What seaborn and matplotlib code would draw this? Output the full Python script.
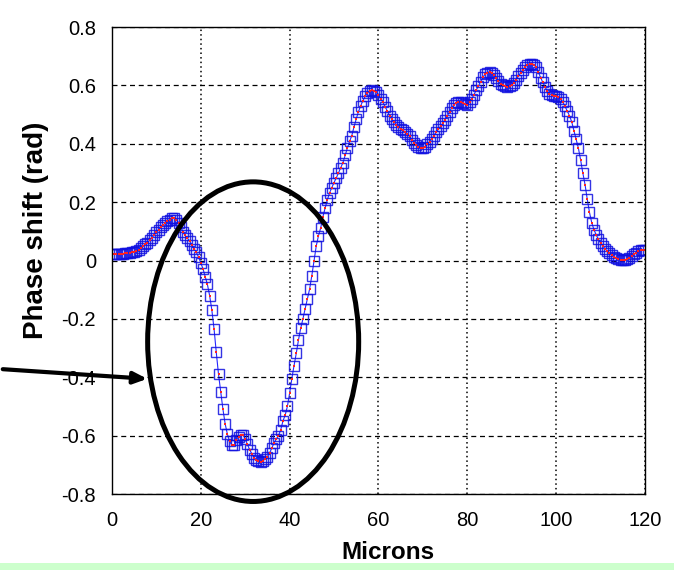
import numpy as np
import pandas as pd
import matplotlib
matplotlib.use("Agg")
import matplotlib.pyplot as plt
from matplotlib.patches import Ellipse, Rectangle
import seaborn as sns

microns = np.arange(0, 120.5, 0.5)
phase = [
    0.023, 0.023, 0.023, 0.023, 0.024, 0.024, 0.025, 0.026, 0.027, 0.028,
    0.030, 0.033, 0.037, 0.043, 0.049, 0.055, 0.061, 0.069, 0.078, 0.087,
    0.096, 0.106, 0.114, 0.121, 0.128, 0.135, 0.140, 0.144, 0.145, 0.140,
    0.130, 0.114, 0.099, 0.086, 0.077, 0.066, 0.053, 0.040, 0.028, 0.012,
    -0.008, -0.028, -0.055, -0.082, -0.120, -0.170, -0.235, -0.315, -0.390, -0.450,
    -0.510, -0.560, -0.595, -0.620, -0.632, -0.632, -0.615, -0.603, -0.598, -0.597,
    -0.610, -0.630, -0.648, -0.662, -0.675, -0.682, -0.687, -0.689, -0.686, -0.680,
    -0.672, -0.660, -0.642, -0.625, -0.612, -0.600, -0.580, -0.550, -0.530, -0.500,
    -0.455, -0.405, -0.360, -0.318, -0.272, -0.232, -0.200, -0.165, -0.132, -0.098,
    -0.052, -0.002, 0.050, 0.085, 0.112, 0.150, 0.180, 0.208, 0.232, 0.250,
    0.267, 0.283, 0.300, 0.318, 0.335, 0.360, 0.385, 0.408, 0.428, 0.458,
    0.485, 0.510, 0.530, 0.548, 0.562, 0.574, 0.580, 0.584, 0.582, 0.576,
    0.567, 0.555, 0.542, 0.527, 0.512, 0.496, 0.485, 0.475, 0.466, 0.458,
    0.452, 0.446, 0.440, 0.434, 0.425, 0.414, 0.404, 0.396, 0.390, 0.386,
    0.386, 0.390, 0.398, 0.406, 0.416, 0.428, 0.440, 0.450, 0.460, 0.470,
    0.483, 0.496, 0.510, 0.524, 0.534, 0.540, 0.543, 0.544, 0.541, 0.536,
    0.534, 0.542, 0.554, 0.568, 0.584, 0.598, 0.613, 0.628, 0.638, 0.644,
    0.647, 0.644, 0.636, 0.626, 0.614, 0.605, 0.600, 0.597, 0.595, 0.598,
    0.603, 0.609, 0.620, 0.632, 0.643, 0.654, 0.664, 0.670, 0.675, 0.675,
    0.671, 0.662, 0.645, 0.627, 0.610, 0.595, 0.580, 0.572, 0.567, 0.564,
    0.562, 0.560, 0.553, 0.543, 0.528, 0.512, 0.496, 0.475, 0.445, 0.415,
    0.385, 0.345, 0.300, 0.260, 0.210, 0.165, 0.130, 0.106, 0.088, 0.073,
    0.060, 0.050, 0.040, 0.033, 0.026, 0.020, 0.013, 0.008, 0.005, 0.003,
    0.002, 0.002, 0.005, 0.010, 0.016, 0.021, 0.026, 0.031, 0.035, 0.036,
    0.037,
]
x_ticks = [0, 20, 40, 60, 80, 100, 120]
y_ticks = [-0.8, -0.6, -0.4, -0.2, 0, 0.2, 0.4, 0.6, 0.8]
y_labels = ["-0.8", "-0.6", "-0.4", "-0.2", "0", "0.2", "0.4", "0.6", "0.8"]

df = pd.DataFrame({"Microns": microns, "Phase": phase})

sns.set_style("white")
plt.rcParams["font.family"] = ["Liberation Sans", "DejaVu Sans"]
plt.rcParams["text.color"] = "black"
plt.rcParams["xtick.color"] = "black"
plt.rcParams["ytick.color"] = "black"
plt.rcParams["axes.labelcolor"] = "black"

fig = plt.figure(figsize=(6.74, 5.70), dpi=100)
# thin light green strip along the bottom edge
fig.patches.append(Rectangle((0, 0), 1, 0.0125, transform=fig.transFigure,
                             facecolor="#ccffcc", edgecolor="none", zorder=0))
ax = fig.add_axes([0.166, 0.1333, 0.791, 0.8193])

sns.lineplot(data=df, x="Microns", y="Phase", ax=ax, color="#0000ff", lw=0.8,
             marker="s", markersize=6.8, markerfacecolor="none",
             markeredgecolor="#1010e0", markeredgewidth=1.0, alpha=0.85)
ax.plot(df["Microns"], df["Phase"], ls="none", marker="s", markersize=1.5,
        color="#ff2020", markeredgewidth=0)

ax.set_xlim(0, 120)
ax.set_ylim(-0.8, 0.8)
ax.set_xticks(x_ticks)
ax.set_yticks(y_ticks)
ax.set_yticklabels(y_labels)
ax.tick_params(labelsize=14.5, direction="in", length=3, color="black")
ax.tick_params(axis="x", pad=12.5)
ax.tick_params(axis="y", pad=11.5)
ax.yaxis.grid(True, color="black", ls=(0, (4, 3)), lw=0.9)
ax.xaxis.grid(True, color="black", ls=(0, (1, 2)), lw=1.1)
for s in ax.spines.values():
    s.set_color("black")
    s.set_linewidth(1.0)

ax.set_xlabel("Microns", fontsize=17.5, fontweight="bold", va="center")
ax.xaxis.set_label_coords(0.517, -0.126)
ax.set_ylabel("Phase shift (rad)", fontsize=20, fontweight="bold", va="center")
ax.yaxis.set_label_coords(-0.143, 0.565)

# highlight ellipse and pointer arrow
ax.add_patch(Ellipse((31.8, -0.278), 47.5, 1.095, fill=False, edgecolor="black",
                     lw=3.6, clip_on=False, zorder=5))
ax.annotate("", xy=(150, 191), xycoords="figure pixels",
            xytext=(0, 201), textcoords="figure pixels",
            arrowprops=dict(arrowstyle="-|>,head_length=0.8,head_width=0.35",
                            color="black", lw=3), annotation_clip=False)

fig.savefig("out.png", dpi=100)
